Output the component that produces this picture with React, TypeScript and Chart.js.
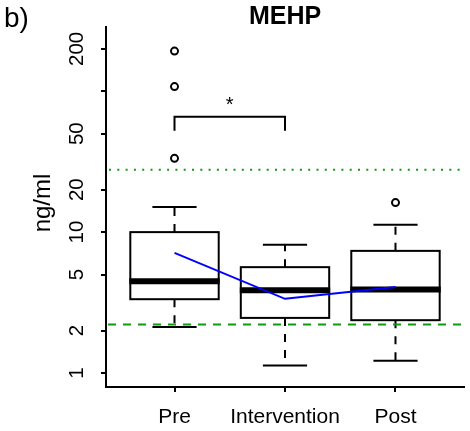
import React, { useEffect, useRef } from "react";
import { Chart, registerables } from "chart.js";

Chart.register(...registerables);

const FONT = "'Liberation Sans', Arial, Helvetica, sans-serif";

const panelLabel = "b)";
const titleText = "MEHP";
const yLabel = "ng/ml";
const categories = ["Pre", "Intervention", "Post"];
const whiskerLow = [2.12, 1.13, 1.22];
const q1 = [3.34, 2.46, 2.37];
const medians = [4.48, 3.87, 3.92];
const q3 = [10.0, 5.64, 7.36];
const whiskerHigh = [15.1, 8.12, 11.3];
const outlierGroup = [1, 1, 1, 3];
const outlierValues = [193, 108, 33.4, 16.2];
const means = [7.13, 3.36, 4.08];
const refDotted = 27.7;
const refDashed = 2.21;
const yTickValues = [1, 2, 5, 10, 20, 50, 100, 200];
const yTickLabels = ["1", "2", "5", "10", "20", "50", "", "200"];
const sigGroups = [1, 2];
const sigTop = 66;
const sigBottom = 52.5;
const sigLabel = "*";
const sigLabelValue = 72;

const Y_MIN = 0.795;
const Y_MAX = 286;
const X_MIN = 0.38;
const X_MAX = 3.62;

const boxPlugin = {
  id: "rBoxes",
  beforeDatasetsDraw(chart: any) {
    const { ctx } = chart;
    const x = chart.scales.x;
    const y = chart.scales.y;
    ctx.save();
    ctx.strokeStyle = "#000";
    categories.forEach((_, i) => {
      const g = i + 1;
      const cx = x.getPixelForValue(g);
      const left = x.getPixelForValue(g - 0.4);
      const right = x.getPixelForValue(g + 0.4);
      const capL = x.getPixelForValue(g - 0.2);
      const capR = x.getPixelForValue(g + 0.2);
      const pQ1 = y.getPixelForValue(q1[i]);
      const pQ3 = y.getPixelForValue(q3[i]);
      const pLo = y.getPixelForValue(whiskerLow[i]);
      const pHi = y.getPixelForValue(whiskerHigh[i]);
      const pMed = y.getPixelForValue(medians[i]);
      // whiskers
      ctx.lineWidth = 2;
      ctx.lineCap = "butt";
      ctx.setLineDash([8, 8]);
      ctx.beginPath();
      ctx.moveTo(cx, pQ3);
      ctx.lineTo(cx, pHi);
      ctx.moveTo(cx, pQ1);
      ctx.lineTo(cx, pLo);
      ctx.stroke();
      ctx.setLineDash([]);
      // staples
      ctx.beginPath();
      ctx.moveTo(capL, pHi);
      ctx.lineTo(capR, pHi);
      ctx.moveTo(capL, pLo);
      ctx.lineTo(capR, pLo);
      ctx.stroke();
      // box
      ctx.fillStyle = "#fff";
      ctx.fillRect(left, pQ3, right - left, pQ1 - pQ3);
      ctx.strokeRect(left, pQ3, right - left, pQ1 - pQ3);
      // median
      ctx.lineWidth = 6;
      ctx.beginPath();
      ctx.moveTo(left - 1, pMed);
      ctx.lineTo(right + 1, pMed);
      ctx.stroke();
    });
    ctx.restore();
  },
  afterDatasetsDraw(chart: any) {
    const { ctx, chartArea } = chart;
    const x = chart.scales.x;
    const y = chart.scales.y;
    ctx.save();
    // reference lines
    ctx.strokeStyle = "#139813";
    ctx.lineWidth = 2;
    ctx.setLineDash([2, 6.3]);
    let py = y.getPixelForValue(refDotted);
    ctx.beginPath();
    ctx.moveTo(chartArea.left + 3, py);
    ctx.lineTo(chartArea.right, py);
    ctx.stroke();
    ctx.setLineDash([8, 7]);
    py = y.getPixelForValue(refDashed);
    ctx.beginPath();
    ctx.moveTo(chartArea.left + 2, py);
    ctx.lineTo(chartArea.right, py);
    ctx.stroke();
    ctx.setLineDash([]);
    // significance bracket
    const x1 = x.getPixelForValue(sigGroups[0]);
    const x2 = x.getPixelForValue(sigGroups[1]);
    const yt = y.getPixelForValue(sigTop);
    const yb = y.getPixelForValue(sigBottom);
    ctx.strokeStyle = "#000";
    ctx.lineWidth = 2;
    ctx.beginPath();
    ctx.moveTo(x1, yb);
    ctx.lineTo(x1, yt);
    ctx.lineTo(x2, yt);
    ctx.lineTo(x2, yb);
    ctx.stroke();
    ctx.fillStyle = "#000";
    ctx.font = `20px ${FONT}`;
    ctx.textAlign = "center";
    ctx.textBaseline = "alphabetic";
    ctx.fillText(sigLabel, (x1 + x2) / 2, y.getPixelForValue(sigLabelValue));
    ctx.restore();
  },
  afterDraw(chart: any) {
    const { ctx, chartArea } = chart;
    const y = chart.scales.y;
    ctx.save();
    ctx.fillStyle = "#000";
    // panel label
    ctx.font = `28px ${FONT}`;
    ctx.textAlign = "left";
    ctx.textBaseline = "alphabetic";
    ctx.fillText(panelLabel, 4, 27);
    // title
    ctx.font = `bold 25px ${FONT}`;
    ctx.textAlign = "center";
    ctx.fillText(titleText, (chartArea.left + chartArea.right) / 2, 24);
    // y tick labels (rotated)
    ctx.font = `20.5px ${FONT}`;
    yTickValues.forEach((v, i) => {
      const p = y.getPixelForValue(v);
      ctx.save();
      ctx.translate(chartArea.left - 23, p);
      ctx.rotate(-Math.PI / 2);
      ctx.textAlign = "center";
      ctx.fillText(yTickLabels[i], 0, 0);
      ctx.restore();
    });
    // y axis label
    ctx.font = `24px ${FONT}`;
    ctx.save();
    ctx.translate(50, (chartArea.top + chartArea.bottom) / 2 - 4);
    ctx.rotate(-Math.PI / 2);
    ctx.textAlign = "center";
    ctx.fillText(yLabel, 0, 0);
    ctx.restore();
    ctx.restore();
  },
};

export default function App() {
  const ref = useRef<HTMLCanvasElement>(null);

  useEffect(() => {
    if (!ref.current) return;
    const axisGrid = {
      display: true,
      drawOnChartArea: false,
      drawTicks: true,
      tickLength: 5,
      color: "#000",
      lineWidth: 2,
    };
    const axisBorder = { display: true, color: "#000", width: 2 };
    const chart = new Chart(ref.current, {
      type: "line",
      data: {
        datasets: [
          {
            type: "scatter",
            label: "outliers",
            data: outlierValues.map((v, i) => ({ x: outlierGroup[i], y: v })),
            showLine: false,
            pointStyle: "circle",
            pointRadius: 3.5,
            pointBorderWidth: 2,
            pointBorderColor: "#000",
            pointBackgroundColor: "rgba(0,0,0,0)",
          } as any,
          {
            type: "line",
            label: "mean",
            data: means.map((v, i) => ({ x: i + 1, y: v })),
            borderColor: "#0000ff",
            borderWidth: 2,
            pointRadius: 0,
            tension: 0,
            fill: false,
          } as any,
        ],
      },
      options: {
        animation: false,
        responsive: false,
        maintainAspectRatio: false,
        devicePixelRatio: 1,
        layout: { padding: { top: 27, right: 4, left: 0, bottom: 0 } },
        plugins: {
          legend: { display: false },
          title: { display: false },
          tooltip: { enabled: false },
        },
        scales: {
          x: {
            type: "linear",
            min: X_MIN,
            max: X_MAX,
            afterBuildTicks: (s: any) => {
              s.ticks = categories.map((_, i) => ({ value: i + 1 }));
            },
            afterFit: (s: any) => {
              s.height = 44;
            },
            ticks: {
              autoSkip: false,
              maxRotation: 0,
              minRotation: 0,
              padding: 13,
              color: "#000",
              font: { size: 21, family: FONT },
              callback: (_v: any, i: number) => categories[i],
            },
            grid: axisGrid,
            border: axisBorder,
          },
          y: {
            type: "logarithmic",
            min: Y_MIN,
            max: Y_MAX,
            afterBuildTicks: (s: any) => {
              s.ticks = yTickValues.map((v) => ({ value: v }));
            },
            afterFit: (s: any) => {
              s.width = 106;
            },
            ticks: { display: false },
            grid: axisGrid,
            border: axisBorder,
          },
        },
      } as any,
      plugins: [boxPlugin],
    });
    return () => chart.destroy();
  }, []);

  return (
    <div
      style={{
        position: "absolute",
        left: 0,
        top: 0,
        width: 470,
        height: 431,
        background: "#fff",
      }}
    >
      <canvas
        ref={ref}
        width={470}
        height={431}
        style={{ display: "block", width: 470, height: 431 }}
      />
    </div>
  );
}
